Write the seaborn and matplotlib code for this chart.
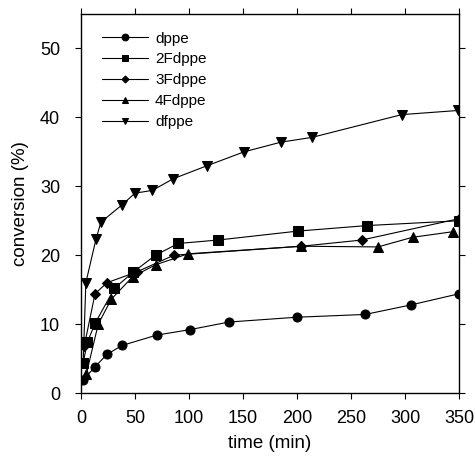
import pandas as pd
import seaborn as sns
import matplotlib
matplotlib.use("Agg")
import matplotlib.pyplot as plt

# values
series_names = ['dppe', '2Fdppe', '3Fdppe', '4Fdppe', 'dfppe']

time_dppe = [2, 13, 24, 38, 70, 101, 137, 200, 263, 306, 350]
conv_dppe = [1.9, 3.8, 5.6, 6.9, 8.4, 9.2, 10.3, 11.0, 11.4, 12.8, 14.4]

time_2f = [2, 6, 13, 31, 48, 69, 90, 127, 201, 265, 350]
conv_2f = [4.4, 7.4, 10.1, 15.2, 17.5, 20.0, 21.7, 22.2, 23.5, 24.3, 25.0]

time_3f = [3, 13, 24, 52, 86, 204, 260, 350]
conv_3f = [6.8, 14.4, 16.0, 17.6, 20.0, 21.3, 22.2, 25.3]

time_4f = [5, 16, 28, 48, 69, 99, 204, 275, 307, 344]
conv_4f = [2.8, 10.0, 13.6, 16.9, 18.6, 20.2, 21.3, 21.2, 22.6, 23.4]

time_df = [2, 4.5, 14, 18.5, 38, 50, 66, 85.5, 117, 151, 185, 214, 297, 349]
conv_df = [4.3, 16.0, 22.4, 24.8, 27.3, 29.0, 29.4, 31.1, 33.0, 35.0, 36.4, 37.1, 40.4, 41.0]

x_ticks = [0, 50, 100, 150, 200, 250, 300, 350]
y_ticks = [0, 10, 20, 30, 40, 50]

frames = []
for name, t, c in zip(series_names,
                      [time_dppe, time_2f, time_3f, time_4f, time_df],
                      [conv_dppe, conv_2f, conv_3f, conv_4f, conv_df]):
    frames.append(pd.DataFrame({'time': t, 'conversion': c, 'ligand': name}))
df = pd.concat(frames, ignore_index=True)

sns.set_style("ticks")
plt.rcParams['font.family'] = ['Liberation Sans', 'DejaVu Sans']
plt.rcParams['text.color'] = 'black'
plt.rcParams['axes.labelcolor'] = 'black'
plt.rcParams['xtick.color'] = 'black'
plt.rcParams['ytick.color'] = 'black'

fig = plt.figure(figsize=(4.75, 4.58), dpi=100)
ax = fig.add_axes([0.1705, 0.1419, 0.7958, 0.8275])

markers = {'dppe': 'o', '2Fdppe': 's', '3Fdppe': 'D', '4Fdppe': '^', 'dfppe': 'v'}
sizes = {'dppe': 6.5, '2Fdppe': 6.5, '3Fdppe': 4.8, '4Fdppe': 6.5, 'dfppe': 6.5}

for name in series_names:
    sub = df[df['ligand'] == name]
    sns.lineplot(data=sub, x='time', y='conversion', ax=ax, color='black',
                 marker=markers[name], markersize=sizes[name], linewidth=0.8,
                 markeredgecolor='black', markerfacecolor='black',
                 label=name, sort=True, errorbar=None)

ax.set_xlim(0, 350)
ax.set_ylim(0, 55)
ax.set_xticks(x_ticks)
ax.set_yticks(y_ticks)
ax.tick_params(direction='out', top=True, right=True, labelsize=13,
               length=4, width=0.8, color='black')
ax.tick_params(axis='y', pad=11)
ax.tick_params(axis='x', pad=8)
for s in ax.spines.values():
    s.set_linewidth(1.0)
    s.set_color('black')

ax.set_xlabel('time (min)', fontsize=13.5, labelpad=6)
ax.set_ylabel('conversion (%)', fontsize=13.5, labelpad=8)

ax.legend(loc='upper left', bbox_to_anchor=(0.02, 0.99), frameon=False,
          fontsize=11, handlelength=3.0, handletextpad=0.45,
          labelspacing=0.45, markerscale=0.75)

fig.savefig('out.png', dpi=100)
